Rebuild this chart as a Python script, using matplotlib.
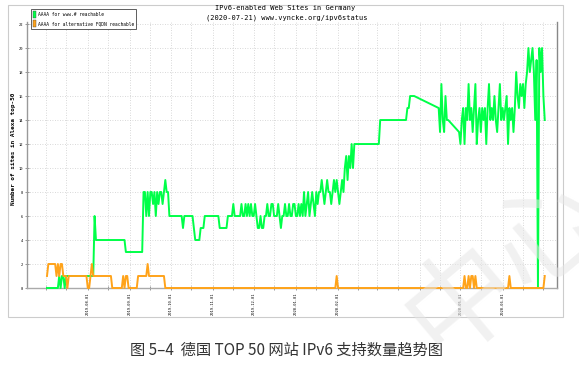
import numpy as np
import pandas as pd
import matplotlib
matplotlib.use("Agg")
import matplotlib.pyplot as plt
import matplotlib.dates as mdates
from matplotlib.patches import Patch, Rectangle

# texts
title_lines = ["IPv6-enabled Web Sites in Germany",
               "(2020-07-21) www.vyncke.org/ipv6status"]
y_label = "Number of sites in Alexa top-50"
caption = "图 5–4  德国 TOP 50 网站 IPv6 支持数量趋势图"
series_names = ["AAAA for www.# reachable", "AAAA for alternative FQDN reachable"]

start_date = pd.Timestamp("2019-07-02")

# AAAA for www.# reachable: daily counts, three runs (no data between them)
www_start_a = 0
www_vals_a = [0, 0, 0, 0, 0, 0, 0, 0, 0, 1, 0, 1, 1, 0,
              1, 1, 1, 1, 1, 1, 1, 1, 1, 1, 1, 1, 1, 1, 1, 1, 1, 1, 1, 1, 1,
              6,
              4, 4, 4, 4, 4, 4, 4, 4, 4, 4, 4, 4, 4, 4, 4, 4, 4, 4, 4, 4, 4, 4,
              3, 3, 3, 3, 3, 3, 3, 3, 3, 3, 3, 3, 3,
              8, 8, 6, 8, 6, 8, 8, 7, 8, 6, 8, 7, 8, 8, 7, 8, 9, 8, 8,
              6, 6, 6, 6, 6, 6, 6, 6, 6, 6, 5, 6, 6, 6, 6, 6, 6, 6, 5,
              4, 4, 4, 4, 5, 5, 5,
              6, 6, 6, 6, 6, 6, 6, 6, 6, 6, 6, 5, 5, 5, 5, 5, 5,
              6, 6, 6, 6, 7, 6, 6, 6, 6,
              6, 7, 6, 6, 7, 6, 7, 6, 7, 6, 6, 7, 6, 5, 5, 6, 5, 5, 6,
              6, 7, 6, 6, 7, 7, 6, 6, 6, 7, 6, 5, 6, 6, 7, 6, 6, 7, 6, 6,
              7, 7, 6, 6, 7, 6,
              7, 6, 8, 6, 7, 8, 6, 7, 8, 7, 6, 8, 7, 8,
              8, 9, 8, 7, 8, 9, 8, 8, 7, 8, 9, 8, 9, 8, 7, 8, 9, 8,
              10, 11, 9, 11, 10, 12, 10, 12,
              12, 12, 12, 12, 12, 12, 12, 12, 12, 12, 12, 12, 12, 12, 12, 12,
              12, 12,
              14, 14, 14, 14, 14, 14, 14, 14, 14, 14, 14, 14, 14, 14, 14, 14,
              14, 14, 14, 14,
              15, 15, 16, 16, 16, 16]
www_start_b = 288
www_vals_b = [15, 13, 17, 14, 13, 16, 14, 14]
www_start_c = 303
www_vals_c = [13, 12, 14, 15, 12, 15, 14, 17, 14, 15, 13, 15, 17, 12, 14, 15,
              13, 15, 14, 15, 12,
              15, 17, 14, 15, 14, 16, 14, 13, 15, 17, 14, 15, 14, 15, 16, 12,
              15, 14, 15, 13, 15, 18,
              16, 15, 17, 16, 17, 15, 17, 18, 20, 18, 19, 20, 18, 14, 19, 0,
              20, 18, 20, 16, 14]

# AAAA for alternative FQDN reachable: daily counts
fqdn_vals_early = [1, 2, 2, 2, 2, 2, 2, 1, 2, 1, 2, 2, 1, 1, 1, 0,
                   1, 1, 1, 1, 1, 1, 1, 1, 1, 1, 1, 1, 1, 1, 0, 0, 1, 2,
                   1, 1, 1, 1, 1, 1, 1, 1, 1, 1, 1, 1, 1, 1,
                   0, 0, 0, 0, 0, 0, 0, 0, 1, 0, 1, 1, 0, 0, 0, 0, 0, 0, 0,
                   1, 1, 1, 1, 1, 1, 1, 2, 1, 1, 1, 1, 1, 1, 1, 1, 1, 1, 1, 1, 0]
fqdn_spike_days = [213, 307, 310, 312, 313, 315, 340, 366]
fqdn_last_day = 366

x_tick_labels = ["2019-08-01", "2019-09-01", "2019-10-01", "2019-11-01",
                 "2019-12-01", "2020-01-01", "2020-02-01", "2020-05-01",
                 "2020-06-01"]
y_ticks = [0, 2, 4, 6, 8, 10, 12, 14, 16, 18, 20, 22]

green = "#00ff48"
orange = "#ffa31a"
mono = "DejaVu Sans Mono"

# build the day axes
www_days = np.concatenate([
    np.arange(www_start_a, www_start_a + len(www_vals_a)),
    np.arange(www_start_b, www_start_b + len(www_vals_b)),
    np.arange(www_start_c, www_start_c + len(www_vals_c))])
www_vals = np.array(www_vals_a + www_vals_b + www_vals_c)

fqdn_days = np.arange(0, fqdn_last_day + 1)
fqdn_vals = np.zeros(len(fqdn_days))
fqdn_vals[:len(fqdn_vals_early)] = fqdn_vals_early
fqdn_vals[fqdn_spike_days] = 1

www_dates = start_date + pd.to_timedelta(www_days, unit="D")
fqdn_dates = start_date + pd.to_timedelta(fqdn_days, unit="D")

fig = plt.figure(figsize=(5.79, 3.67), dpi=100)
W, H = 579, 367
ax = fig.add_axes([27 / W, 1 - 288 / H, 530 / W, 266 / H])

ax.plot(www_dates, www_vals, color=green, lw=1.4, zorder=3, clip_on=False)
ax.plot(fqdn_dates, fqdn_vals, color=orange, lw=1.4, zorder=3.2, clip_on=False)

ax.set_xlim(start_date - pd.Timedelta(days=14.7), start_date + pd.Timedelta(days=375))
ax.set_ylim(0, 22.17)

ax.set_xticks(pd.to_datetime(x_tick_labels))
ax.set_xticklabels(x_tick_labels, rotation=90, fontsize=2.7, family=mono)
ax.xaxis.set_minor_locator(mdates.DayLocator(bymonthday=[1, 16]))
ax.set_yticks(y_ticks)
ax.set_yticklabels([str(v) for v in y_ticks], fontsize=2.7, family=mono)
ax.tick_params(which="both", direction="inout", length=3, width=0.6,
               color="#888888", pad=1.5)

ax.grid(which="both", color="#cccccc", linestyle=(0, (1, 2)), lw=0.6)
ax.set_axisbelow(True)
ax.spines["top"].set_visible(False)
ax.spines["left"].set_color("#999999")
ax.spines["bottom"].set_color("#aaaaaa")
ax.spines["right"].set_color("#888888")
for s in ["left", "bottom", "right"]:
    ax.spines[s].set_linewidth(1.0)

handles = [Patch(facecolor=green, edgecolor="#444444", lw=0.3),
           Patch(facecolor=orange, edgecolor="#444444", lw=0.3)]
leg = ax.legend(handles, series_names, loc="upper left",
                bbox_to_anchor=(31 / W, 1 - 9 / H), bbox_transform=fig.transFigure,
                borderaxespad=0, prop={"family": mono, "size": 3.3},
                fancybox=False, framealpha=1, edgecolor="#444444",
                handlelength=0.6, handleheight=2.0, handletextpad=0.5,
                borderpad=0.45, labelspacing=0.45)
leg.get_frame().set_linewidth(0.6)

fig.text(285 / W, 1 - 8 / H, title_lines[0], ha="center", va="center",
         fontsize=5, family=mono)
fig.text(287 / W, 1 - 18 / H, title_lines[1], ha="center", va="center",
         fontsize=5, family=mono)
fig.text(14 / W, 1 - 149 / H, y_label, rotation=90, ha="center", va="center",
         fontsize=4.3, family=mono, fontweight="bold")

fig.patches.append(Rectangle((8 / W, 1 - 317 / H), 555 / W, 312 / H,
                             transform=fig.transFigure, fill=False,
                             edgecolor="#cccccc", lw=0.8))

fig.text(287 / W, 1 - 350 / H, caption, ha="center", va="center", fontsize=11,
         color="#333333", family=["Noto Sans CJK SC", "DejaVu Sans"])

# faint watermark
fig.text(505 / W, 1 - 265 / H, "中心", ha="center", va="center", fontsize=80,
         rotation=40, color="#e6e6e6", alpha=0.55, zorder=10,
         family=["Noto Sans CJK SC", "DejaVu Sans"])

fig.savefig("out.png", dpi=100)
